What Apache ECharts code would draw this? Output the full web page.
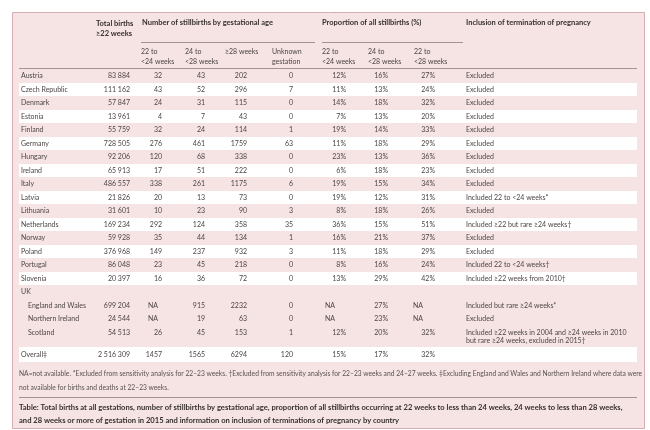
<!DOCTYPE html>
<html><head><meta charset="utf-8">
<script src="https://cdn.jsdelivr.net/npm/echarts@6/dist/echarts.min.js"></script>
<style>html,body{margin:0;padding:0;background:#fff}#c{width:650px;height:430px}</style>
</head><body><div id="c"></div>
<script>
// ---------- DATA ----------
const countries = ['Austria','Czech Republic','Denmark','Estonia','Finland','Germany','Hungary','Ireland','Italy','Latvia','Lithuania','Netherlands','Norway','Poland','Portugal','Slovenia','UK','England and Wales','Northern Ireland','Scotland','Overall\u2021'];
const totalBirths = [83884,111162,57847,13961,55759,728505,92206,65913,486557,21826,31601,169234,59928,376968,86048,20397,null,699204,24544,54513,2516309];
const sb22to24 = [32,43,24,4,32,276,120,17,338,20,10,292,35,149,23,16,null,'NA','NA',26,1457];
const sb24to28 = [43,52,31,7,24,461,68,51,261,13,23,124,44,237,45,36,null,915,19,45,1565];
const sb28plus = [202,296,115,43,114,1759,338,222,1175,73,90,358,134,932,218,72,null,2232,63,153,6294];
const sbUnknown = [0,7,0,0,1,63,0,0,6,0,3,35,1,3,0,0,null,0,0,1,120];
const pct22to24 = [12,11,14,7,19,11,23,6,19,19,8,36,16,11,8,13,null,'NA','NA',12,15];
const pct24to28 = [16,13,18,13,14,18,13,18,15,12,18,15,21,18,16,29,null,27,23,20,17];
const pct22to28 = [27,24,32,20,33,29,36,23,34,31,26,51,37,29,24,42,null,'NA','NA',32,32];
const inclusion = ['Excluded','Excluded','Excluded','Excluded','Excluded','Excluded','Excluded','Excluded','Excluded',
  'Included 22 to <24 weeks*','Excluded','Included \u226522 but rare \u226524 weeks\u2020','Excluded','Excluded',
  'Included 22 to <24 weeks\u2020','Included \u226522 weeks from 2010\u2020',null,'Included but rare \u226524 weeks*','Excluded',
  'Included \u226522 weeks in 2004 and \u226524 weeks in 2010\nbut rare \u226524 weeks, excluded in 2015\u2020',null];
const headerTop = ['Total births\n\u226522 weeks','Number of stillbirths by gestational age','Proportion of all stillbirths (%)','Inclusion of termination of pregnancy'];
const subHeaders = ['22 to\n<24 weeks','24 to\n<28 weeks','\u226528 weeks','Unknown\ngestation','22 to\n<24 weeks','24 to\n<28 weeks','22 to\n<28 weeks'];
const footnote = 'NA=not available. *Excluded from sensitivity analysis for 22\u201323 weeks. \u2020Excluded from sensitivity analysis for 22\u201323 weeks and 24\u201327 weeks. \u2021Excluding England and Wales and Northern Ireland where data were\nnot available for births and deaths at 22\u201323 weeks.';
const caption = 'Table: Total births at all gestations, number of stillbirths by gestational age, proportion of all stillbirths occurring at 22 weeks to less than 24 weeks, 24 weeks to less than 28 weeks,\nand 28 weeks or more of gestation in 2015 and information on inclusion of terminations of pregnancy by country';

// ---------- LAYOUT ----------
const FONT = 'Lato, "Open Sans", sans-serif';
const BODY = '#4d4545', HEAD = '#362f2f';
function fmtNum(v){ if(v===null) return ''; if(typeof v==='string') return v; const s=String(v); if(s.length<5) return s; return s.replace(/\B(?=(\d{3})+(?!\d))/g,' '); }
function fmtPct(v){ if(v===null) return ''; if(typeof v==='string') return v; return v+'%'; }
function rowY(i){ if(i===20) return 354.5; return 76 + i*13.5; }
const whiteRows = [1,3,5,7,9,11,13,15];

const cells = [];
function add(x,y,text,align,opt){ cells.push(Object.assign({x:x,y:y,text:text,align:align,font:'7px '+FONT,fill:BODY,lh:8.5},opt||{})); }
// body
const numCols = [
  {arr:totalBirths,x:130,fmt:fmtNum,naX:118},
  {arr:sb22to24,x:162,fmt:fmtNum,naX:153},
  {arr:sb24to28,x:205,fmt:fmtNum,naX:198},
  {arr:sb28plus,x:247,fmt:fmtNum,naX:240},
  {arr:sbUnknown,x:293,fmt:fmtNum,naX:289},
  {arr:pct22to24,x:346,fmt:fmtPct,naX:330},
  {arr:pct24to28,x:388,fmt:fmtPct,naX:373},
  {arr:pct22to28,x:435,fmt:fmtPct,naX:418}
];
countries.forEach(function(c,i){
  const y=rowY(i);
  const indent = (i>=17 && i<=19) ? 7 : 0;
  add(21+indent,y,c,'left');
  numCols.forEach(function(col){
    const v=col.arr[i]; if(v===null) return;
    if(v==='NA') add(col.naX,y,'NA','center'); else add(col.x,y,col.fmt(v),'right');
  });
  if(inclusion[i]) add(466, y, inclusion[i], 'left', {vAlign:'top', y:y-4.5});
});
// headers
const HB = 'bold 7.5px '+FONT;
add(96,18,headerTop[0],'left',{font:HB,fill:HEAD,vAlign:'top',lh:10.5});
add(142,18,headerTop[1],'left',{font:HB,fill:HEAD,vAlign:'top'});
add(322,18,headerTop[2],'left',{font:HB,fill:HEAD,vAlign:'top'});
add(466,18,headerTop[3],'left',{font:HB,fill:HEAD,vAlign:'top'});
const subX=[141,185,225,272,322,368,414];
subHeaders.forEach(function(s,k){ add(subX[k],46,s,'left',{vAlign:'top',lh:10.5}); });
// footnote & caption
add(19,367.5,footnote,'left',{font:'6.7px '+FONT,fill:'#5a5151',vAlign:'top',lh:13.5});
add(19,401,caption,'left',{font:'bold 7.6px '+FONT,fill:HEAD,vAlign:'top',lh:13});

// bands and rules (row-driven)
const bands = whiteRows.map(function(i){ return [19, rowY(i)-6.6, 637, rowY(i)+6.6]; });
bands.push([19, 347, 637, 362]);
const rules = [[141,42,315,42],[322,42,463,42],[19,68,637,68],[19,396.5,637,396.5]];

const chart = echarts.init(document.getElementById('c'), null, {renderer:'canvas'});
chart.setOption({
  animation:false,
  backgroundColor:'#ffffff',
  grid:{left:0,right:0,top:0,bottom:0},
  xAxis:{type:'value',min:0,max:650,show:false},
  yAxis:{type:'value',min:0,max:430,inverse:true,show:false},
  graphic:[{type:'rect',z:-10,shape:{x:12.5,y:12.5,width:632,height:416},style:{fill:'#f6e4e4',stroke:'#d6adb2',lineWidth:1}}],
  series:[
    {type:'custom',z:1,silent:true,data:bands,renderItem:function(p,api){
      const a=api.coord([api.value(0),api.value(1)]), b=api.coord([api.value(2),api.value(3)]);
      return {type:'rect',shape:{x:a[0],y:a[1],width:b[0]-a[0],height:b[1]-a[1]},style:{fill:'#ffffff'}};
    }},
    {type:'custom',z:2,silent:true,data:rules,renderItem:function(p,api){
      const a=api.coord([api.value(0),api.value(1)]), b=api.coord([api.value(2),api.value(3)]);
      return {type:'line',shape:{x1:a[0],y1:Math.round(a[1])+0.5,x2:b[0],y2:Math.round(b[1])+0.5},style:{stroke:'#8a7e7e',lineWidth:0.8}};
    }},
    {type:'custom',z:3,silent:true,data:cells.map(function(c,i){return [c.x,c.y,i];}),renderItem:function(p,api){
      const c=cells[api.value(2)]; const pt=api.coord([api.value(0),api.value(1)]);
      const va=c.vAlign||'middle';
      return {type:'text',x:pt[0],y:pt[1],style:{text:c.text,font:c.font,fill:c.fill,align:c.align,textAlign:c.align,verticalAlign:va,textVerticalAlign:va,lineHeight:c.lh}};
    }}
  ]
});
</script></body></html>
